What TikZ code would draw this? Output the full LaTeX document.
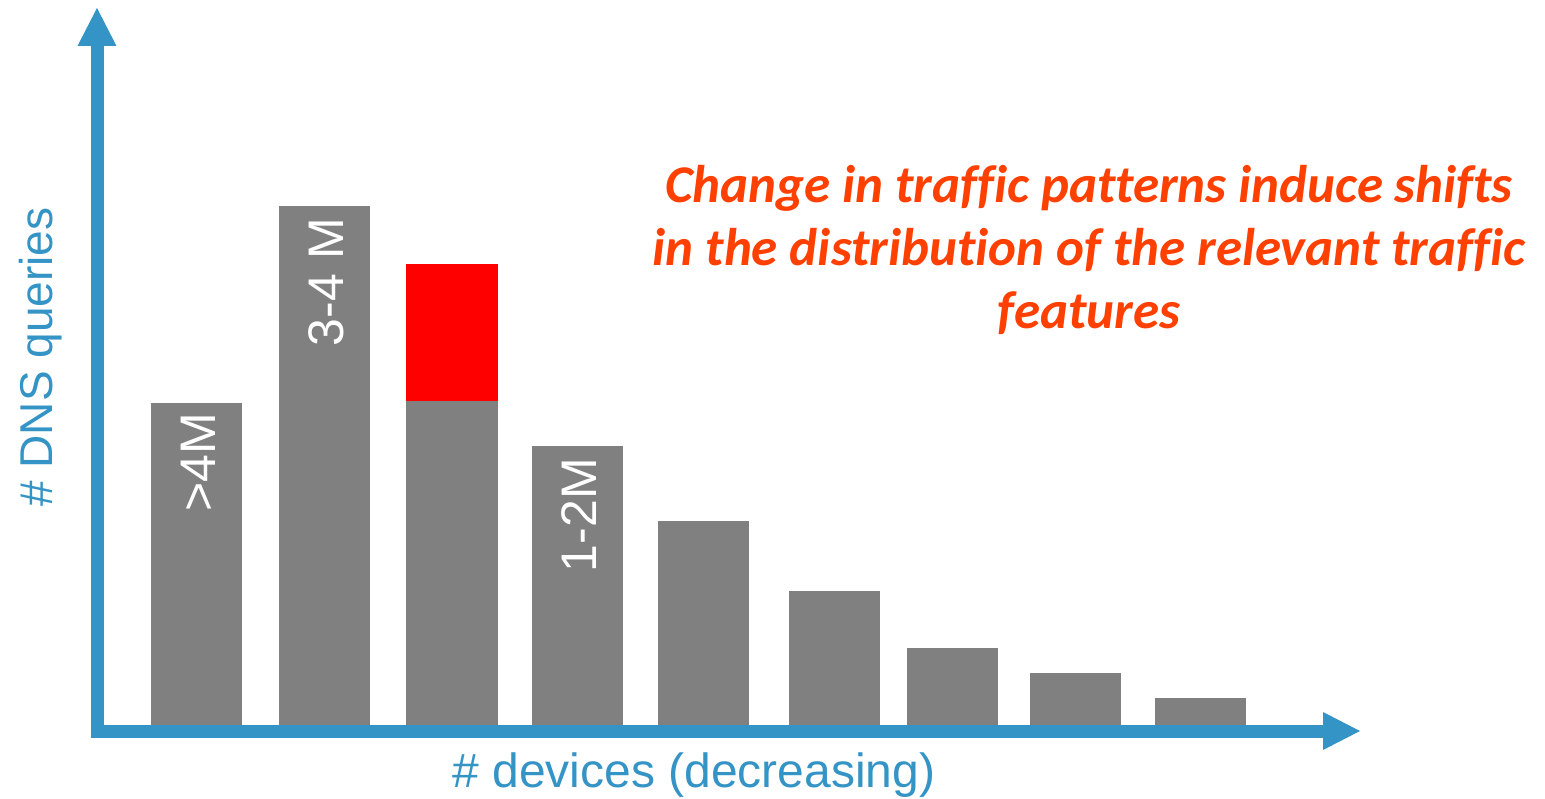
\documentclass[tikz,border=0pt]{standalone}
\usepackage{fontspec}
\setmainfont{Liberation Sans}
\newfontfamily\notefont[Ligatures={NoCommon}]{Carlito}
\definecolor{axisblue}{RGB}{52,148,198}
\definecolor{bargray}{RGB}{128,128,128}
\definecolor{shiftred}{RGB}{255,0,0}
\definecolor{noteorange}{RGB}{255,64,0}
\tikzset{
  bar/.style={fill=bargray, draw=none},
  barlabel/.style={text=white, font=\fontsize{50}{60}\selectfont, rotate=90, anchor=base east, inner sep=0pt},
  axislabel/.style={text=axisblue, inner sep=0pt},
  axisline/.style={draw=axisblue, line width=13pt, line join=miter},
  axishead/.style={fill=axisblue, draw=none},
}
\begin{document}
\begin{tikzpicture}[x=1pt,y=-1pt]
  \fill[white] (0,0) rectangle (1545,799);
  \useasboundingbox (0,0) rectangle (1545,799);

  % bars: left, right, top (bottom on the axis)
  \foreach \l/\r/\t [count=\i] in {151/242/403, 279/370/206, 406/498/401, 532/623/446,
                                    658/749/521, 789/880/591, 907/998/648, 1030/1121/673, 1155/1246/698}
    \path[bar] (\l,725) rectangle (\r,\t) coordinate (bar\i);
  % the shifted part of the third bar
  \fill[shiftred] (406,264) rectangle (498,401);

  % labels inside the bars
  \node[barlabel] (lab1) at (215.5,413) {>4M};
  \node[barlabel] (lab2) at (343.5,218) {3-4 M};
  \node[barlabel] (lab4) at (596.5,458) {1-2M};

  % axes
  \coordinate (origin) at (97,731);
  \coordinate (ybase) at (97,46);
  \coordinate (xbase) at (1323,731);
  \draw[axisline] (ybase) -- (origin) -- (xbase);
  \fill[axishead] (77.5,46) -- (97,8) -- (116.5,46) -- cycle;
  \fill[axishead] (1323,712) -- (1360,731) -- (1323,750) -- cycle;

  % axis titles
  \node[axislabel, font=\fontsize{46}{55}\selectfont, rotate=90, anchor=base] (ylab) at (52,357) {\# DNS queries};
  \node[axislabel, font=\fontsize{48}{58}\selectfont, anchor=base] (xlab) at (694,787) {\# devices (decreasing)};

  % note (anchored on the baseline of its last line)
  \node[text=noteorange, font=\notefont\bfseries\itshape\fontsize{53}{63}\selectfont,
        align=center, anchor=base, inner sep=0pt] (note) at (1089,329)
    {Change in traffic patterns induce shifts\\in the distribution of the relevant traffic\\features};
\end{tikzpicture}
\end{document}
